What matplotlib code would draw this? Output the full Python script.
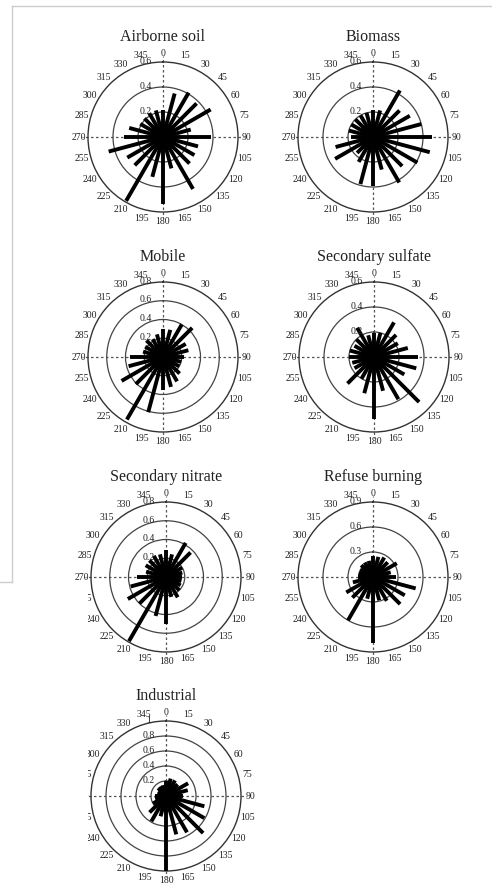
import matplotlib
matplotlib.use('Agg')
import matplotlib.pyplot as plt
import numpy as np
from matplotlib.patches import Rectangle
from matplotlib.lines import Line2D

plt.rcParams['font.family'] = 'Liberation Serif'

W, H = 492, 888

# wind direction bins (deg, clockwise from north)
angles = np.arange(0, 360, 15)

titles = ['Airborne soil', 'Biomass', 'Mobile', 'Secondary sulfate',
          'Secondary nitrate', 'Refuse burning', 'Industrial']

airborne = [0.22, 0.36, 0.41, 0.38, 0.44, 0.23, 0.38, 0.29, 0.29, 0.30, 0.48, 0.26,
            0.54, 0.33, 0.59, 0.32, 0.33, 0.45, 0.31, 0.28, 0.21, 0.21, 0.22, 0.22]
biomass = [0.22, 0.22, 0.43, 0.30, 0.34, 0.40, 0.47, 0.47, 0.41, 0.33, 0.42, 0.27,
           0.39, 0.39, 0.23, 0.18, 0.35, 0.31, 0.18, 0.20, 0.20, 0.20, 0.20, 0.20]
mobile = [0.30, 0.30, 0.40, 0.44, 0.28, 0.28, 0.22, 0.20, 0.20, 0.25, 0.30, 0.33,
          0.35, 0.61, 0.77, 0.41, 0.51, 0.38, 0.35, 0.22, 0.22, 0.25, 0.22, 0.25]
sulfate = [0.19, 0.20, 0.32, 0.25, 0.22, 0.28, 0.35, 0.35, 0.28, 0.51, 0.39, 0.28,
           0.50, 0.30, 0.20, 0.30, 0.18, 0.18, 0.20, 0.20, 0.18, 0.20, 0.27, 0.18]
nitrate = [0.29, 0.25, 0.42, 0.37, 0.20, 0.18, 0.17, 0.17, 0.18, 0.20, 0.25, 0.22,
           0.50, 0.43, 0.79, 0.40, 0.47, 0.39, 0.31, 0.22, 0.25, 0.25, 0.26, 0.25]
refuse = [0.25, 0.25, 0.27, 0.25, 0.33, 0.22, 0.27, 0.53, 0.44, 0.46, 0.33, 0.29,
          0.79, 0.27, 0.60, 0.35, 0.37, 0.25, 0.18, 0.18, 0.18, 0.20, 0.20, 0.20]
industrial = [0.20, 0.24, 0.24, 0.22, 0.34, 0.30, 0.22, 0.53, 0.59, 0.70, 0.56, 0.53,
              1.00, 0.28, 0.39, 0.31, 0.20, 0.15, 0.15, 0.12, 0.12, 0.15, 0.15, 0.15]
series = [airborne, biomass, mobile, sulfate, nitrate, refuse, industrial]

rings = [[0.2, 0.4, 0.6], [0.2, 0.4, 0.6], [0.2, 0.4, 0.6, 0.8], [0.2, 0.4, 0.6],
         [0.2, 0.4, 0.6, 0.8], [0.3, 0.6, 0.9], [0.2, 0.4, 0.6, 0.8, 1.0]]
ring_labels = [['0.2', '0.4', '0.6'], ['0.2', '0.4', '0.6'], ['0.2', '0.4', '0.6', '0.8'],
               ['0.2', '0.4', '0.6'], ['0.2', '0.4', '0.6', '0.8'], ['0.3', '0.6', '0.9'],
               ['0.2', '0.4', '0.6', '0.8', '1']]

# plot centres in pixels
centres = [(163, 137), (373, 137), (163, 357), (374, 357),
           (166, 577), (373, 577), (166, 796)]
R = 75  # outer ring radius, px

fig = plt.figure(figsize=(W / 100, H / 100), dpi=100)

for i in range(7):
    cx, cy = centres[i]
    ax = fig.add_axes([(cx - R) / W, 1 - (cy + R) / H, 2 * R / W, 2 * R / H],
                      projection='polar')
    ax.set_theta_zero_location('N')
    ax.set_theta_direction(-1)
    rmax = rings[i][-1]
    ax.set_ylim(0, rmax)
    ax.set_yticks(rings[i][:-1])
    ax.set_yticklabels([])
    ax.yaxis.grid(True, color='#444444', lw=0.9, ls='-')
    ax.xaxis.grid(False)
    ax.set_xticks([])
    ax.spines['polar'].set_color('#333333')
    ax.spines['polar'].set_linewidth(1.0)
    ax.set_facecolor('none')

    # direction labels round the outer ring
    for a in angles:
        ax.text(np.deg2rad(a), rmax * 1.12, str(a), ha='center', va='center',
                fontsize=7, color='#222222', clip_on=False)

    # dashed cross
    for a in [0, 90, 180, 270]:
        ax.plot([np.deg2rad(a), np.deg2rad(a)], [0, rmax * 1.08], ls=(0, (2, 2)),
                color='#555555', lw=0.9, clip_on=False, zorder=1)

    ax.vlines(np.deg2rad(angles), 0, series[i], colors='black', lw=2.8, zorder=3)

    # radial labels, left of the north axis
    for r, lab in zip(rings[i], ring_labels[i]):
        ax.text(0.5 - 17 / (2 * R), 0.5 + 0.5 * r / rmax + 0.005, lab,
                transform=ax.transAxes, ha='center', va='center',
                fontsize=7, color='#222222', zorder=4)

    fig.text(cx / W, 1 - (cy - 100) / H, titles[i], ha='center', va='center',
             fontsize=11.5, color='#222222')

# screenshot frame and covered corner
fig.add_artist(Rectangle((0, 0), 88 / W, 1 - 583 / H, transform=fig.transFigure,
                         facecolor='white', edgecolor='none', zorder=10))
frame = '#cccccc'
fig.add_artist(Line2D([12 / W, 1], [1 - 6 / H, 1 - 6 / H], color=frame, lw=1,
                      transform=fig.transFigure, zorder=11))
fig.add_artist(Line2D([12 / W, 12 / W], [1 - 6 / H, 1 - 582 / H], color=frame, lw=1,
                      transform=fig.transFigure, zorder=11))
fig.add_artist(Line2D([0, 12 / W], [1 - 582 / H, 1 - 582 / H], color=frame, lw=1,
                      transform=fig.transFigure, zorder=11))

fig.savefig('out.png', dpi=100)
